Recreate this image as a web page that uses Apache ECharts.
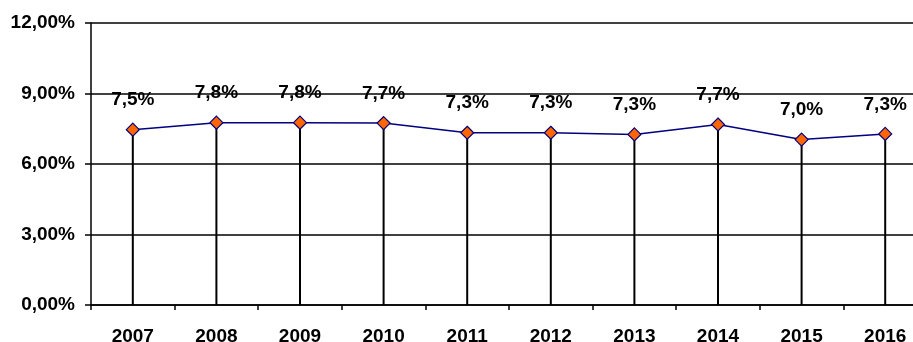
<!DOCTYPE html>
<html>
<head>
<meta charset="utf-8">
<script src="https://cdn.jsdelivr.net/npm/echarts@6/dist/echarts.min.js"></script>
<style>
  html, body { margin: 0; padding: 0; background: #fff; }
  #chart { width: 913px; height: 342px; }
</style>
</head>
<body>
<div id="chart"></div>
<script>
const years = ['2007', '2008', '2009', '2010', '2011', '2012', '2013', '2014', '2015', '2016'];
const rates = [7.46, 7.76, 7.76, 7.74, 7.33, 7.33, 7.26, 7.68, 7.04, 7.28];

const fontFamily = '"Liberation Sans", Arial, sans-serif';
const chart = echarts.init(document.getElementById('chart'));

chart.setOption({
  animation: false,
  grid: {
    left: 91,
    top: 23,
    bottom: 37,
    right: -14,
    outerBoundsMode: 'none',
  },
  xAxis: {
    type: 'category',
    data: years,
    boundaryGap: true,
    axisLine: { lineStyle: { color: '#000', width: 1.5 } },
    axisTick: { show: true, length: 5, lineStyle: { color: '#000', width: 1.5 } },
    axisLabel: {
      color: '#000',
      fontWeight: 'bold',
      fontSize: 19,
      fontFamily: fontFamily,
      margin: 22,
      interval: 0,
    },
  },
  yAxis: {
    type: 'value',
    min: 0,
    max: 12,
    interval: 3,
    axisLine: { show: true, lineStyle: { color: '#000', width: 1.5 } },
    axisTick: { show: true, length: 6, lineStyle: { color: '#000', width: 1.5 } },
    splitLine: { lineStyle: { color: '#000', width: 1.5 } },
    axisLabel: {
      color: '#000',
      fontWeight: 'bold',
      fontSize: 19,
      fontFamily: fontFamily,
      margin: 16,
      formatter: (v) => v.toFixed(2).replace('.', ',') + '%',
    },
  },
  series: [
    {
      // drop lines from each point to the axis
      type: 'bar',
      data: rates,
      barWidth: 2,
      itemStyle: { color: '#000' },
      z: 2,
    },
    {
      type: 'line',
      data: rates,
      z: 5,
      symbol: 'diamond',
      symbolSize: 13,
      lineStyle: { color: '#000080', width: 1.5 },
      itemStyle: { color: '#FF6600', borderColor: '#000080', borderWidth: 1.2 },
      label: {
        show: true,
        position: 'top',
        distance: 13,
        color: '#000',
        fontWeight: 'bold',
        fontSize: 19,
        fontFamily: fontFamily,
        formatter: (p) => p.value.toFixed(1).replace('.', ',') + '%',
      },
    },
  ],
});
</script>
</body>
</html>
